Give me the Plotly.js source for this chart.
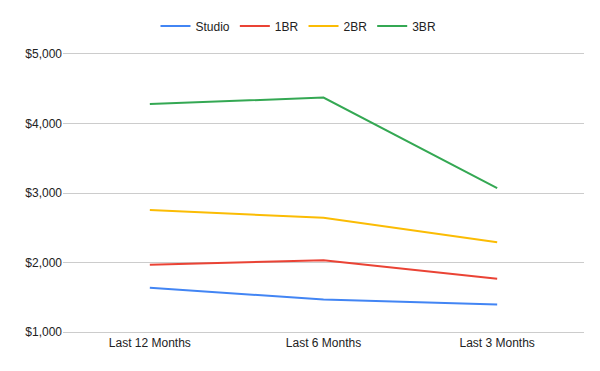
<!DOCTYPE html>
<html>
<head>
<meta charset="utf-8">
<script src="https://cdn.plot.ly/plotly-3.0.1.min.js"></script>
<style>html,body{margin:0;padding:0;background:#fff;}#chart{width:600px;height:371px;}</style>
</head>
<body>
<div id="chart"></div>
<script>
const categories = ["Last 12 Months", "Last 6 Months", "Last 3 Months"];
const studio = [1638, 1467, 1395];
const oneBR = [1967, 2033, 1767];
const twoBR = [2757, 2643, 2290];
const threeBR = [4279, 4374, 3071];
const seriesNames = ["Studio", "1BR", "2BR", "3BR"];
const seriesColors = ["#4285f4", "#ea4335", "#fbbc04", "#34a853"];
const yTickVals = [1000, 2000, 3000, 4000, 5000];
const yTickText = ["$1,000", "$2,000", "$3,000", "$4,000", "$5,000"];

const allSeries = [studio, oneBR, twoBR, threeBR];
const traces = allSeries.map((vals, i) => ({
  type: "scatter",
  mode: "lines",
  name: seriesNames[i],
  x: categories,
  y: vals,
  line: {color: seriesColors[i], width: 2},
  hoverinfo: "skip"
}));

const layout = {
  width: 600,
  height: 371,
  margin: {l: 63, r: 16, t: 49, b: 37},
  paper_bgcolor: "#fff",
  plot_bgcolor: "#fff",
  font: {family: "Liberation Sans, Arial, sans-serif", size: 12, color: "#222"},
  showlegend: true,
  legend: {
    orientation: "h",
    x: 0.452, xanchor: "center",
    y: 1.092, yanchor: "middle",
    font: {size: 12, color: "#222"},
    tracegroupgap: 0
  },
  xaxis: {
    type: "category",
    range: [-0.5, 2.5],
    showgrid: false,
    zeroline: false,
    showline: false,
    ticks: "",
    tickfont: {size: 12, color: "#222"}
  },
  yaxis: {
    range: [971.5, 5028.5],
    tickmode: "array",
    tickvals: yTickVals,
    ticktext: yTickText,
    showgrid: true,
    gridcolor: "#cccccc",
    gridwidth: 1,
    zeroline: false,
    showline: false,
    ticks: "",
    ticklen: 0,
    tickfont: {size: 12, color: "#222"}
  }
};

Plotly.newPlot("chart", traces, layout, {displayModeBar: false, staticPlot: true});
</script>
</body>
</html>
